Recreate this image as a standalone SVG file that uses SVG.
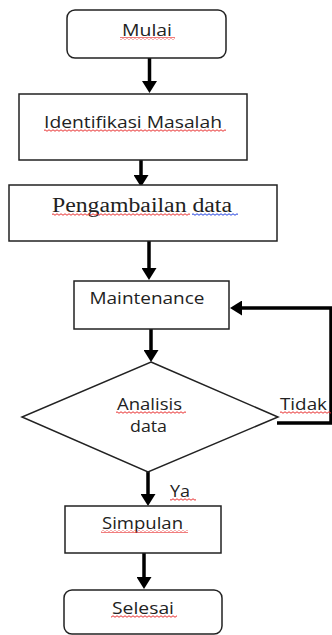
<svg xmlns="http://www.w3.org/2000/svg" width="332" height="635" viewBox="0 0 332 635">
<style>
.box{fill:#fff;stroke:#222;stroke-width:1.5}
.t{font-family:"Open Sans","Liberation Sans",sans-serif;font-size:17px;fill:#222;text-anchor:middle}
.ts{font-family:"Liberation Serif",serif;font-size:20px;fill:#222;text-anchor:middle}
.arr{fill:none;stroke:#000;stroke-width:3.5}
</style>
<defs>
<marker id="ah" viewBox="0 0 12 15" refX="3" refY="7.5" markerWidth="12" markerHeight="15" markerUnits="userSpaceOnUse" orient="auto">
<path d="M0,0 L12,7.5 L0,15 z" fill="#000"/>
</marker>
<pattern id="wr" width="4" height="3" patternUnits="userSpaceOnUse">
<path d="M0 1.5 Q1 0 2 1.5 T4 1.5" fill="none" stroke="#e83030" stroke-width="1"/>
</pattern>
<pattern id="wb" width="4" height="3" patternUnits="userSpaceOnUse">
<path d="M0 1.5 Q1 0 2 1.5 T4 1.5" fill="none" stroke="#2040e0" stroke-width="1"/>
</pattern>
</defs>
<g id="connectors">
<path class="arr" d="M149.5,58 V84" marker-end="url(#ah)"/>
<path class="arr" d="M141,160 V178" marker-end="url(#ah)"/>
<path class="arr" d="M149,241 V271" marker-end="url(#ah)"/>
<path class="arr" d="M151,329 V353" marker-end="url(#ah)"/>
<path class="arr" d="M148,472 V497" marker-end="url(#ah)"/>
<path class="arr" d="M144,553 V580" marker-end="url(#ah)"/>
<path class="arr" d="M277,423 H331 V308 H239" marker-end="url(#ah)"/>
<g id="label-tidak"><text class="t" x="303.5" y="410" textLength="47" lengthAdjust="spacingAndGlyphs">Tidak</text><rect x="280" y="411" width="51" height="3" fill="url(#wr)"/></g>
<g id="label-ya"><text class="t" x="180" y="497" textLength="20" lengthAdjust="spacingAndGlyphs">Ya</text><rect x="170" y="498" width="26" height="3" fill="url(#wr)"/></g>
</g>
<g id="mulai">
<rect class="box" x="67" y="10" width="159" height="48" rx="8"/>
<text class="t" x="147" y="36" textLength="50" lengthAdjust="spacingAndGlyphs">Mulai</text>
<rect x="120" y="37" width="55" height="3" fill="url(#wr)"/>
</g>
<g id="identifikasi">
<rect class="box" x="19" y="94" width="228" height="66"/>
<text class="t" x="133" y="128" textLength="178" lengthAdjust="spacingAndGlyphs">Identifikasi Masalah</text>
<rect x="44" y="129" width="182" height="3" fill="url(#wr)"/>
</g>
<g id="pengambilan">
<rect class="box" x="9" y="185" width="268" height="56"/>
<text class="ts" x="142" y="212" textLength="180" lengthAdjust="spacingAndGlyphs">Pengambailan data</text>
<rect x="52" y="213" width="138" height="3" fill="url(#wr)"/>
<rect x="192" y="213" width="46" height="3" fill="url(#wb)"/>
</g>
<g id="maintenance">
<rect class="box" x="74" y="281" width="155" height="48"/>
<text class="t" x="147" y="304" textLength="115" lengthAdjust="spacingAndGlyphs">Maintenance</text>
</g>
<g id="analisis">
<polygon class="box" points="151,362 278,417 148,472 22,417"/>
<text class="t" x="149.5" y="410" textLength="65" lengthAdjust="spacingAndGlyphs">Analisis</text>
<rect x="116" y="411" width="70" height="3" fill="url(#wr)"/>
<text class="t" x="148.5" y="432" textLength="37" lengthAdjust="spacingAndGlyphs">data</text>
</g>
<g id="simpulan">
<rect class="box" x="65" y="506" width="156" height="47"/>
<text class="t" x="142.5" y="529" textLength="81" lengthAdjust="spacingAndGlyphs">Simpulan</text>
<rect x="101" y="530" width="87" height="3" fill="url(#wr)"/>
</g>
<g id="selesai">
<rect class="box" x="64" y="590" width="158" height="44" rx="8"/>
<text class="t" x="143" y="614" textLength="62" lengthAdjust="spacingAndGlyphs">Selesai</text>
<rect x="111" y="615" width="66" height="3" fill="url(#wr)"/>
</g>
</svg>
